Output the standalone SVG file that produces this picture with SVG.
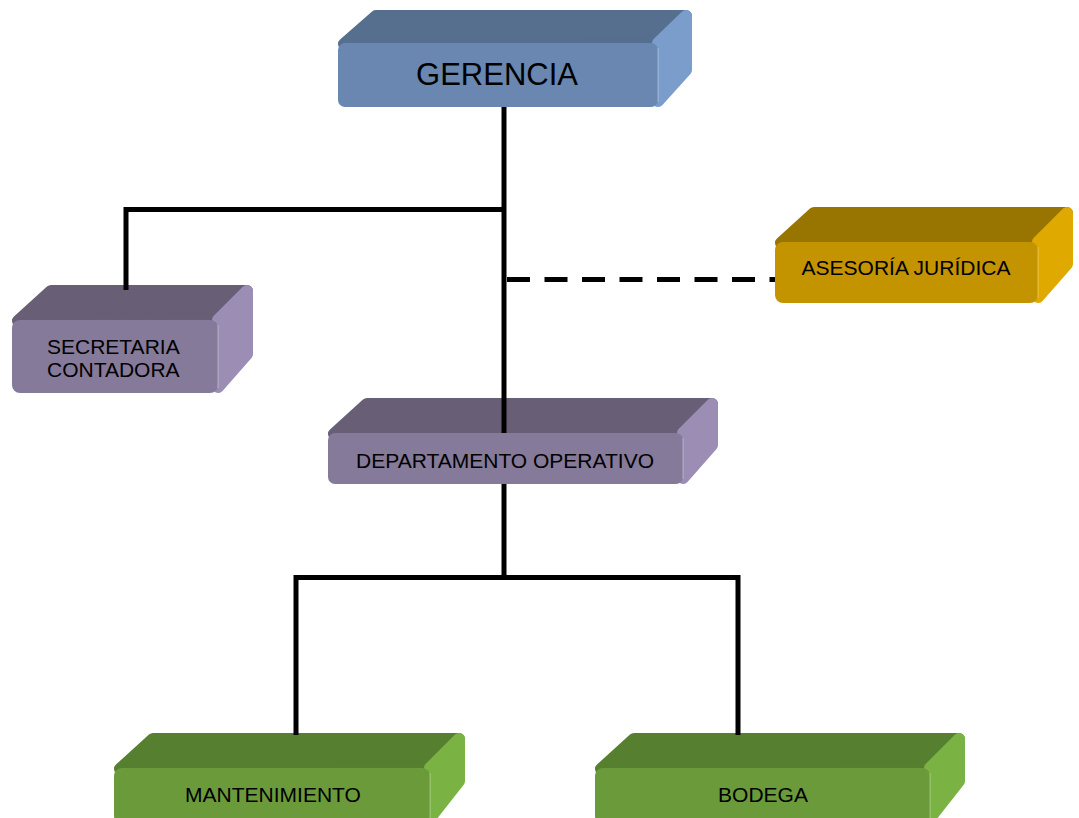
<svg xmlns="http://www.w3.org/2000/svg" width="1079" height="818" viewBox="0 0 1079 818">
  <style>
    .face { stroke-linejoin: round; stroke-width: 12; }
    .blue .top { fill: #566f8f; stroke: #566f8f; }
    .blue .front { fill: #6987b0; }
    .blue .side { fill: #7b9dcc; stroke: #7b9dcc; }
    .purple .top { fill: #685e76; stroke: #685e76; }
    .purple .front { fill: #857a99; }
    .purple .side { fill: #9b8db3; stroke: #9b8db3; }
    .gold .top { fill: #987400; stroke: #987400; }
    .gold .front { fill: #c49300; }
    .gold .side { fill: #e0a900; stroke: #e0a900; }
    .green .top { fill: #567f30; stroke: #567f30; }
    .green .front { fill: #6b9a3b; }
    .green .side { fill: #7ab343; stroke: #7ab343; }
    .edge { stroke: #ffffff; stroke-opacity: 0.18; stroke-width: 2; fill: none; }
    .label { font-family: "Liberation Sans", Arial, sans-serif; font-size: 21px; fill: #000; }
    .title { font-family: "Liberation Sans", Arial, sans-serif; font-size: 31px; fill: #000; }
    .conn { fill: none; stroke: #000; stroke-width: 5; stroke-linejoin: miter; }
    .dash { stroke-dasharray: 23 14.5; }
  </style>

  <!-- GERENCIA: front 338,43 320x64, depth 34 -->
  <g id="gerencia" class="blue">
    <polygon class="face top" points="344,44 376,16 686,16 658,43"/>
    <polygon class="face side" points="658,43 686,16 686,70 658,101"/>
    <rect class="front" x="338" y="43" width="320" height="64" rx="7"/>
    <line class="edge" x1="658" y1="48" x2="658" y2="102"/>
    <text class="title" x="497" y="85" text-anchor="middle">GERENCIA</text>
  </g>

  <!-- SECRETARIA CONTADORA: front 12,320 206x73, depth 35 -->
  <g id="secretaria" class="purple">
    <polygon class="face top" points="18,321 51,291 247,291 218,320"/>
    <polygon class="face side" points="218,320 247,291 247,354 218,387"/>
    <rect class="front" x="12" y="320" width="206" height="73" rx="8"/>
    <line class="edge" x1="218" y1="325" x2="218" y2="388"/>
    <text class="label" x="47" y="354">SECRETARIA</text>
    <text class="label" x="47" y="377">CONTADORA</text>
  </g>

  <!-- ASESORÍA JURÍDICA: front 775,242 263x61, depth 35 -->
  <g id="asesoria" class="gold">
    <polygon class="face top" points="781,243 814,213 1067,213 1038,242"/>
    <polygon class="face side" points="1038,242 1067,213 1067,264 1038,297"/>
    <rect class="front" x="775" y="242" width="263" height="61" rx="8"/>
    <line class="edge" x1="1038" y1="247" x2="1038" y2="298"/>
    <text class="label" x="906" y="275" text-anchor="middle">ASESORÍA JURÍDICA</text>
  </g>

  <!-- DEPARTAMENTO OPERATIVO: front 328,433 355x51, depth 35 -->
  <g id="departamento" class="purple">
    <polygon class="face top" points="334,434 367,404 712,404 683,433"/>
    <polygon class="face side" points="683,433 712,404 712,445 683,478"/>
    <rect class="front" x="328" y="433" width="355" height="51" rx="7"/>
    <line class="edge" x1="683" y1="438" x2="683" y2="479"/>
    <text class="label" x="505" y="468" text-anchor="middle">DEPARTAMENTO OPERATIVO</text>
  </g>

  <!-- MANTENIMIENTO: front 114,768 316x52, depth 35 -->
  <g id="mantenimiento" class="green">
    <polygon class="face top" points="120,769 153,739 459,739 430,768"/>
    <polygon class="face side" points="430,768 459,739 459,781 430,818"/>
    <rect class="front" x="114" y="768" width="316" height="56" rx="8"/>
    <line class="edge" x1="430" y1="773" x2="430" y2="818"/>
    <text class="label" x="273" y="802" text-anchor="middle">MANTENIMIENTO</text>
  </g>

  <!-- BODEGA: front 595,768 335x52, depth 35 -->
  <g id="bodega" class="green">
    <polygon class="face top" points="601,769 634,739 959,739 930,768"/>
    <polygon class="face side" points="930,768 959,739 959,781 930,818"/>
    <rect class="front" x="595" y="768" width="335" height="56" rx="8"/>
    <line class="edge" x1="930" y1="773" x2="930" y2="818"/>
    <text class="label" x="763" y="802" text-anchor="middle">BODEGA</text>
  </g>

  <!-- connectors -->
  <g id="connectors">
    <path class="conn" d="M504 107 V433"/>
    <path class="conn" d="M126 290 V209.5 H504"/>
    <path class="conn dash" d="M507 279.5 H775"/>
    <path class="conn" d="M504 484 V577.5"/>
    <path class="conn" d="M296 735 V577.5 H738 V735"/>
  </g>
</svg>
